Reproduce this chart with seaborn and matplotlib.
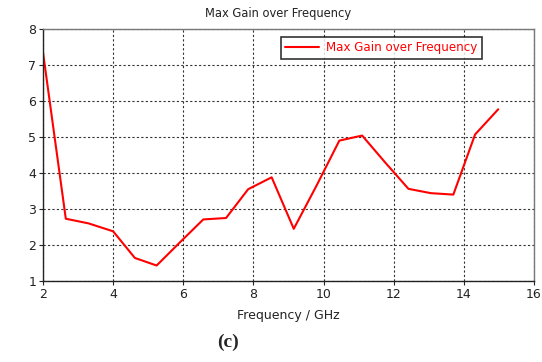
import matplotlib
matplotlib.use("Agg")
import matplotlib.pyplot as plt
import seaborn as sns
import pandas as pd

freq = [2.0, 2.65, 3.3, 4.0, 4.62, 5.24, 5.9, 6.57, 7.22, 7.85, 8.52,
        9.15, 9.8, 10.45, 11.1, 11.75, 12.42, 13.06, 13.7, 14.32, 14.98]
gain = [7.35, 2.73, 2.6, 2.38, 1.64, 1.43, 2.07, 2.71, 2.75, 3.55, 3.88,
        2.45, 3.65, 4.9, 5.04, 4.3, 3.56, 3.44, 3.4, 5.07, 5.77]
series_name = "Max Gain over Frequency"
x_ticks = [2, 4, 6, 8, 10, 12, 14, 16]
y_ticks = [1, 2, 3, 4, 5, 6, 7, 8]

df = pd.DataFrame({"Frequency": freq, "Gain": gain, "Series": series_name})

sns.set_style("white")
plt.rcParams["font.family"] = ["DejaVu Sans"]

fig = plt.figure(figsize=(5.42, 3.62), dpi=100)
ax = fig.add_axes([43 / 542, 1 - 281 / 362, (534 - 43) / 542, (281 - 29) / 362])

sns.lineplot(data=df, x="Frequency", y="Gain", hue="Series", palette=["#ff0000"],
             linewidth=1.5, ax=ax, legend=True)

ax.set_xlim(2, 16)
ax.set_ylim(1, 8)
ax.set_xticks(x_ticks)
ax.set_yticks(y_ticks)
ax.tick_params(axis="both", labelsize=9, direction="out", length=3, width=0.8,
               colors="#222222", left=True, bottom=True, pad=2)
ax.grid(True, linestyle=(0, (2, 2)), color="#333333", linewidth=0.8)
for s in ["left", "bottom"]:
    ax.spines[s].set_color("#222222")
    ax.spines[s].set_linewidth(1.0)
for s in ["top", "right"]:
    ax.spines[s].set_color("#777777")
    ax.spines[s].set_linewidth(1.0)

ax.set_xlabel("Frequency / GHz", fontsize=9, color="#222222", labelpad=6)
ax.set_ylabel("")
ax.set_title("Max Gain over Frequency", fontsize=8.3, color="#222222", pad=9,
             x=0.478)

leg = ax.legend(handles=ax.get_legend_handles_labels()[0],
                labels=[series_name], loc="upper right",
                bbox_to_anchor=(0.894, 0.97), fontsize=8.6, frameon=True,
                fancybox=False, borderpad=0.4, handlelength=2.8,
                handletextpad=0.6, borderaxespad=0)
leg.get_frame().set_edgecolor("black")
leg.get_frame().set_linewidth(1.2)
for t in leg.get_texts():
    t.set_color("#ff0000")

fig.text(228 / 542, 1 - 342 / 362, "(c)", fontsize=14, fontweight="bold",
         family=["Liberation Serif", "DejaVu Serif"], ha="center", va="center")

fig.savefig("out.png", dpi=100)
